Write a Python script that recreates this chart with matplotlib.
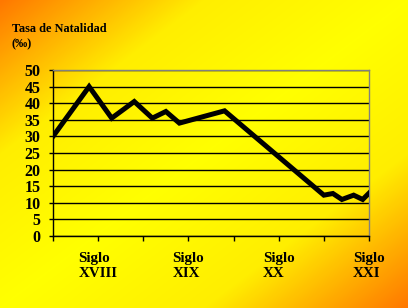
import numpy as np
import matplotlib
matplotlib.use('Agg')
import matplotlib.pyplot as plt
from matplotlib.colors import LinearSegmentedColormap

# data (year, births per 1000)
years = [1650, 1690, 1715, 1740, 1760, 1775, 1790, 1840, 1950, 1960, 1970, 1983, 1993, 2000]
rate = [30, 45, 35.5, 40.5, 35.5, 37.5, 34, 37.7, 12.3, 12.8, 11, 12.3, 11, 12.9]

x_ticks = [1650, 1700, 1750, 1800, 1850, 1900, 1950, 2000]
x_labels = ['', 'Siglo\nXVIII', '', 'Siglo\nXIX', '', 'Siglo\nXX', '', 'Siglo\nXXI']
y_ticks = list(range(0, 55, 5))

plt.rcParams['font.family'] = ['Liberation Serif', 'DejaVu Serif']
plt.rcParams['font.weight'] = 'bold'

fig = plt.figure(figsize=(4.08, 3.08), dpi=100)

# diagonal background: orange in two corners, yellow along the other diagonal
bg = fig.add_axes([0, 0, 1, 1], zorder=0)
W, H = 408, 308
xx, yy = np.meshgrid(np.linspace(0, 1, W), np.linspace(0, 1, H))
t = np.abs(xx + yy - 1)
cmap = LinearSegmentedColormap.from_list('bg', ['#ffff00', '#ffee00', '#ff7800'])
bg.imshow(t, cmap=cmap, vmin=0, vmax=1, aspect='auto', extent=[0, 1, 0, 1], origin='upper')
bg.set_axis_off()

ax = fig.add_axes([53 / W, 1 - 236 / H, 316 / W, 166 / H], zorder=1)
ax.patch.set_alpha(0)
ax.plot(years, rate, color='black', lw=3.6, solid_joinstyle='miter', zorder=3)

ax.set_xlim(1650, 2000)
ax.set_ylim(0, 50)
ax.set_yticks(y_ticks)
ax.set_xticks(x_ticks)
ax.set_xticklabels(x_labels, fontsize=10.8, fontweight='bold', linespacing=1.2,
                   multialignment='left')
ax.tick_params(axis='y', length=3, width=1, pad=6, labelsize=11.5)
ax.tick_params(axis='x', length=3.5, width=1, pad=8)
for lab in ax.get_yticklabels():
    lab.set_fontweight('bold')

ax.yaxis.grid(True, color='black', lw=1)
ax.set_axisbelow(True)
for s in ['top', 'right']:
    ax.spines[s].set_color('#808080')
    ax.spines[s].set_linewidth(1)
for s in ['left', 'bottom']:
    ax.spines[s].set_color('black')
    ax.spines[s].set_linewidth(1)

fig.text(12 / W, 1 - 23.5 / H, 'Tasa de Natalidad\n(‰)', fontsize=8.8, fontweight='bold',
         ha='left', va='top', linespacing=1.3)

fig.savefig('out.png', dpi=100)
